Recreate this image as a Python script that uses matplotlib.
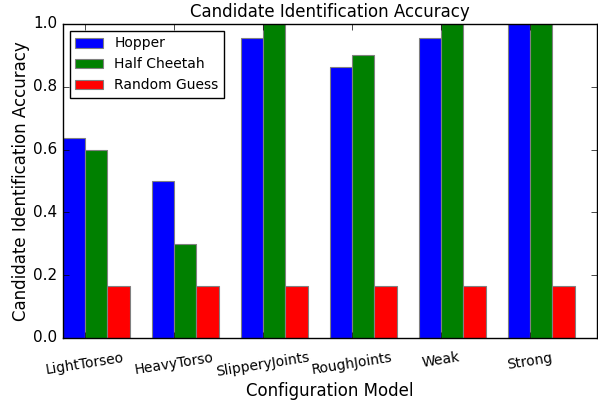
import matplotlib
matplotlib.use("Agg")
import matplotlib.pyplot as plt
import numpy as np

plt.style.use("classic")

models = ["LightTorseo", "HeavyTorso", "SlipperyJoints", "RoughJoints", "Weak", "Strong"]
hopper = [0.636, 0.5, 0.955, 0.864, 0.955, 1.0]
half_cheetah = [0.6, 0.3, 1.0, 0.9, 1.0, 1.0]
random_guess = [0.1667, 0.1667, 0.1667, 0.1667, 0.1667, 0.1667]

ind = np.arange(len(models))
width = 0.25

fig = plt.figure(figsize=(5.98, 4.0), dpi=100, facecolor="white")
ax = fig.add_axes([0.105, 0.155, 0.893, 0.785])

ax.bar(ind, hopper, width, color="b", edgecolor="gray", linewidth=0.8, align="edge", label="Hopper")
ax.bar(ind + width, half_cheetah, width, color="g", edgecolor="gray", linewidth=0.8, align="edge", label="Half Cheetah")
ax.bar(ind + 2 * width, random_guess, width, color="r", edgecolor="gray", linewidth=0.8, align="edge", label="Random Guess")

ax.set_xlim(0, 6)
ax.set_ylim(0, 1.0)
ax.set_xticks(ind + width)
ax.set_xticklabels(models, rotation=9, fontsize=10)
ax.tick_params(axis="x", pad=9)
ax.tick_params(axis="y", labelsize=11)
ax.set_yticks([0.0, 0.2, 0.4, 0.6, 0.8, 1.0])

ax.set_xlabel("Configuration Model", fontsize=12, labelpad=2)
ax.set_ylabel("Candidate Identification Accuracy", fontsize=12, labelpad=2)
ax.set_title("Candidate Identification Accuracy", fontsize=12)
ax.legend(loc="upper left", fontsize=10)

fig.savefig("out.png", dpi=100, facecolor="white")
